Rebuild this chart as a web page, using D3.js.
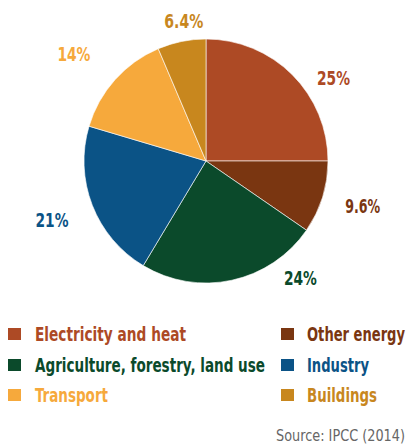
<!DOCTYPE html>
<html>
<head>
<meta charset="utf-8">
<title>Emissions by sector</title>
<script src="https://d3js.org/d3.v7.min.js"></script>
<style>
  body { margin: 0; background: #fff; }
  text { font-family: "DejaVu Sans Condensed", "Liberation Sans Narrow", "DejaVu Sans", sans-serif; font-stretch: condensed; }
</style>
</head>
<body>
<div id="chart"></div>
<script>
// data
var sectors = ["Electricity and heat", "Other energy", "Agriculture, forestry, land use", "Industry", "Transport", "Buildings"];
var shares = [25, 9.6, 24, 21, 14, 6.4];
var labels = ["25%", "9.6%", "24%", "21%", "14%", "6.4%"];
var colors = ["#ad4a25", "#7a3611", "#0b4a2b", "#0b5386", "#f6a93c", "#c8871e"];

// where the percent labels sit (angle in degrees from 12 o'clock, distance from centre)
var labelPos = [[57, 152], [106, 163], [141, 150], [249, 165], [309, 170], [351, 142]];
// the original uses a narrow face, so squeeze the text to these widths
var labelWidth = [33, 35, 33, 33, 33, 39];
var legendWidth = [151, 98, 230, 62, 73, 70];

var W = 409, H = 445;
var cx = 206, cy = 161, r = 122;

var svg = d3.select("#chart").append("svg")
    .attr("width", W)
    .attr("height", H);

var pie = d3.pie().sort(null).value(function(d) { return d; });
var arc = d3.arc().innerRadius(0).outerRadius(r);

var g = svg.append("g").attr("transform", "translate(" + cx + "," + cy + ")");

var slices = pie(shares);

g.selectAll("path")
    .data(slices)
    .enter()
    .append("path")
    .attr("d", arc)
    .attr("fill", function(d, i) { return colors[i]; })
    .attr("stroke", "#fff")
    .attr("stroke-width", 0.6);

g.selectAll("text.pct")
    .data(slices)
    .enter()
    .append("text")
    .attr("class", "pct")
    .attr("x", function(d, i) { return Math.sin(labelPos[i][0] * Math.PI / 180) * labelPos[i][1]; })
    .attr("y", function(d, i) { return -Math.cos(labelPos[i][0] * Math.PI / 180) * labelPos[i][1]; })
    .attr("dy", "0.36em")
    .attr("text-anchor", "middle")
    .attr("font-size", 20)
    .attr("font-weight", "bold")
    .attr("textLength", function(d, i) { return labelWidth[i]; })
    .attr("lengthAdjust", "spacingAndGlyphs")
    .attr("fill", function(d, i) { return colors[i]; })
    .text(function(d, i) { return labels[i]; });

// legend, two columns
var legend = svg.append("g");
var colX = [8, 281], rowY = [341, 372, 402];

var item = legend.selectAll("g")
    .data(sectors)
    .enter()
    .append("g")
    .attr("transform", function(d, i) {
        return "translate(" + colX[i % 2] + "," + rowY[Math.floor(i / 2)] + ")";
    });

item.append("rect")
    .attr("x", 0)
    .attr("y", -13)
    .attr("width", 13)
    .attr("height", 12)
    .attr("fill", function(d, i) { return colors[i]; });

item.append("text")
    .attr("x", function(d, i) { return i % 2 ? 26 : 27; })
    .attr("y", 0)
    .attr("font-size", 19)
    .attr("font-weight", "bold")
    .attr("textLength", function(d, i) { return legendWidth[i]; })
    .attr("lengthAdjust", "spacingAndGlyphs")
    .attr("fill", function(d, i) { return colors[i]; })
    .text(function(d) { return d; });

svg.append("text")
    .attr("x", 405)
    .attr("y", 441)
    .attr("text-anchor", "end")
    .attr("font-size", 15)
    .attr("textLength", 129)
    .attr("lengthAdjust", "spacingAndGlyphs")
    .attr("fill", "#666")
    .text("Source: IPCC (2014)");
</script>
</body>
</html>
